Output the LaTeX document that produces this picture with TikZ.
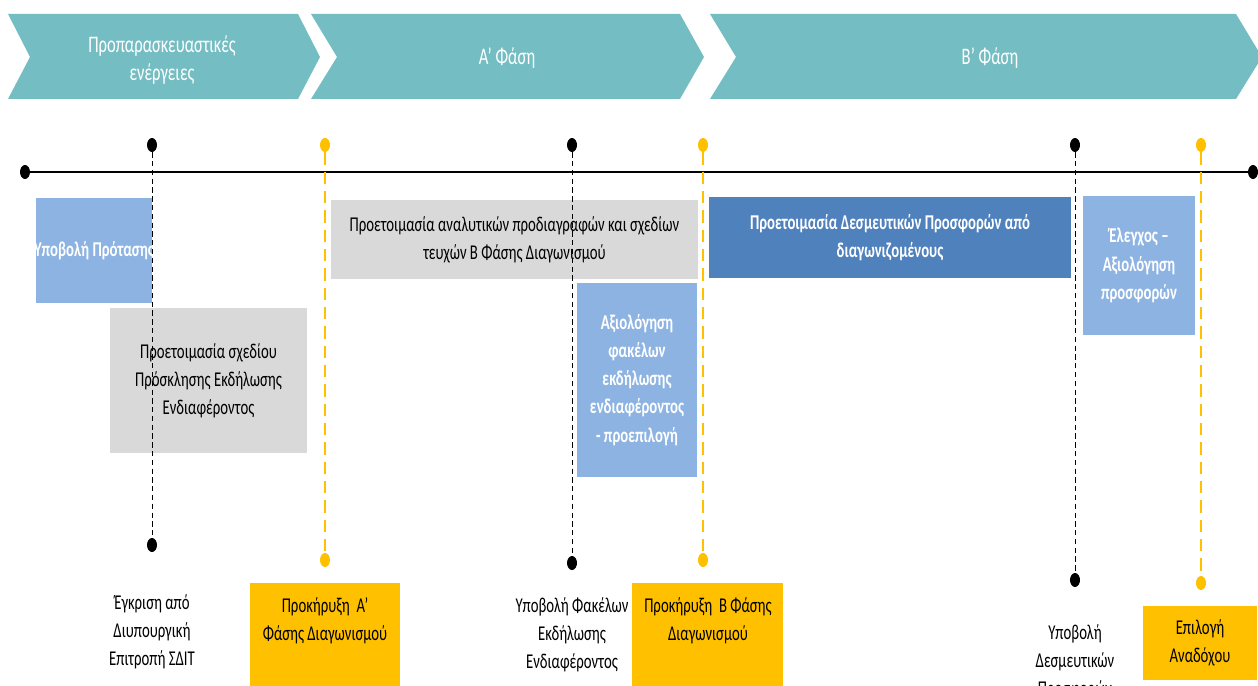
\documentclass[tikz,border=0pt]{standalone}
\usepackage{fontspec}
\setmainfont{Carlito}[FakeStretch=0.7]
\usepackage{xcolor}
\usetikzlibrary{
    shapes.geometric,
    fit,
    positioning
}
\definecolor{phaseteal}{HTML}{74BEC3}
\definecolor{lightblue}{HTML}{8DB3E2}
\definecolor{darkblue}{HTML}{4F81BD}
\definecolor{boxgray}{HTML}{D9D9D9}
\definecolor{pinyellow}{HTML}{FFC000}

\begin{document}
\begin{tikzpicture}[x=0.02cm, y=-0.02cm,
    txt/.style={align=center, font=\fontsize{12}{16}\selectfont},
    wtxt/.style={txt, text=white, font=\fontsize{12}{16}\selectfont\bfseries},
    head/.style={txt, text=white, font=\fontsize{13.5}{16}\selectfont},
    box/.style={inner sep=0pt},
    graybox/.style={box, fill=boxgray},
    lbluebox/.style={box, fill=lightblue},
    dbluebox/.style={box, fill=darkblue},
    ybox/.style={box, fill=pinyellow},
    blackpin/.style={ellipse, fill=black, inner sep=0pt, minimum width=0.2cm, minimum height=0.28cm},
    yellowpin/.style={blackpin, fill=pinyellow},
    blackline/.style={dashed, dash pattern=on 3pt off 2pt, line width=0.5pt},
    yellowline/.style={pinyellow, line width=1.6pt, dash pattern=on 7pt off 4pt}
]
    \useasboundingbox (0, 0) rectangle (1258, 686);
    \clip (0, 0) rectangle (1258, 686);

    \fill[phaseteal] (8, 14) -- (298, 14) -- (320, 57) -- (298, 99) -- (8, 99) -- (30, 57) -- cycle;
    \fill[phaseteal] (311, 14) -- (680, 14) -- (704, 57) -- (680, 99) -- (311, 99) -- (337, 57) -- cycle;
    \fill[phaseteal] (710, 14) -- (1236, 14) -- (1262, 57) -- (1236, 99) -- (710, 99) -- (736, 57) -- cycle;

    \node[head] (ph0) at (162, 60) {Προπαρασκευαστικές\\ενέργειες};
    \node[head] (ph1) at (507, 58) {Α' Φάση};
    \node[head] (ph2) at (990, 58) {Β' Φάση};

    \node[blackpin] (ax0) at (25, 172) {};
    \node[blackpin] (ax1) at (1253, 172) {};
    \draw[line width=1.2pt] (ax0) -- (ax1);

    % activity boxes
    \node[lbluebox, fit={(36, 198) (152, 303)}] (sub) {};
    \node[graybox, fit={(110, 308) (307, 453)}] (prep) {};
    \node[graybox, fit={(331, 200) (698, 279)}] (spec) {};
    \node[lbluebox, fit={(577, 283) (697, 477)}] (eval) {};
    \node[dbluebox, fit={(709, 197) (1071, 278)}] (offers) {};
    \node[lbluebox, fit={(1083, 196) (1195, 335)}] (check) {};

    \node[wtxt] (subt) at (sub) {Υποβολή Πρότασης};
    \node[txt] (prept) at (prep) {Προετοιμασία σχεδίου\\Πρόσκλησης Εκδήλωσης\\Ενδιαφέροντος};
    \node[txt] (spect) at (spec) {Προετοιμασία αναλυτικών προδιαγραφών και σχεδίων\\τευχών Β Φάσης Διαγωνισμού};
    \node[wtxt] (evalt) at (eval) {Αξιολόγηση\\φακέλων\\εκδήλωσης\\ενδιαφέροντος\\- προεπιλογή};
    \node[wtxt] (offerst) at (offers) {Προετοιμασία Δεσμευτικών Προσφορών από\\διαγωνιζομένους};
    \node[wtxt] (checkt) at (check) {Έλεγχος –\\Αξιολόγηση\\προσφορών};

    \node[blackpin] (t1) at (152, 145) {};
    \node[blackpin] (b1) at (152, 545) {};
    \node[blackpin] (t2) at (572, 145) {};
    \node[blackpin] (b2) at (572, 563) {};
    \node[blackpin] (t3) at (1075, 145) {};
    \node[blackpin] (b3) at (1075, 580) {};
    \node[yellowpin] (y1) at (325, 145) {};
    \node[yellowpin] (z1) at (325, 560) {};
    \node[yellowpin] (y2) at (703, 145) {};
    \node[yellowpin] (z2) at (703, 560) {};
    \node[yellowpin] (y3) at (1201, 145) {};
    \node[yellowpin] (z3) at (1201, 583) {};

    \draw[blackline] (t1) -- (b1);
    \draw[blackline] (t2) -- (b2);
    \draw[blackline] (t3) -- (b3);
    \draw[yellowline] (y1) -- (z1);
    \draw[yellowline] (y2) -- (z2);
    \draw[yellowline] (y3) -- (z3);

    \node[txt, below=0.72cm of b1] (appr) {Έγκριση από\\Διυπουργική\\Επιτροπή ΣΔΙΤ};
    \node[txt, below=0.42cm of b2] (subfile) {Υποβολή Φακέλων\\Εκδήλωσης\\Ενδιαφέροντος};
    \node[txt, below=0.62cm of b3] (subbind) {Υποβολή\\Δεσμευτικών\\Προσφορών};

    % announcements
    \node[ybox, fit={(250, 583) (400, 690)}] (annA) {};
    \node[ybox, fit={(632, 583) (783, 690)}] (annB) {};
    \node[ybox, fit={(1143, 606) (1257, 680)}] (winner) {};
    \node[txt] (annAt) at (325, 621) {Προκήρυξη\ \ Α’\\Φάσης Διαγωνισμού};
    \node[txt] (annBt) at (708, 621) {Προκήρυξη\ \ Β Φάσης\\Διαγωνισμού};
    \node[txt] (winnert) at (winner) {Επιλογή\\Αναδόχου};
\end{tikzpicture}
\end{document}
